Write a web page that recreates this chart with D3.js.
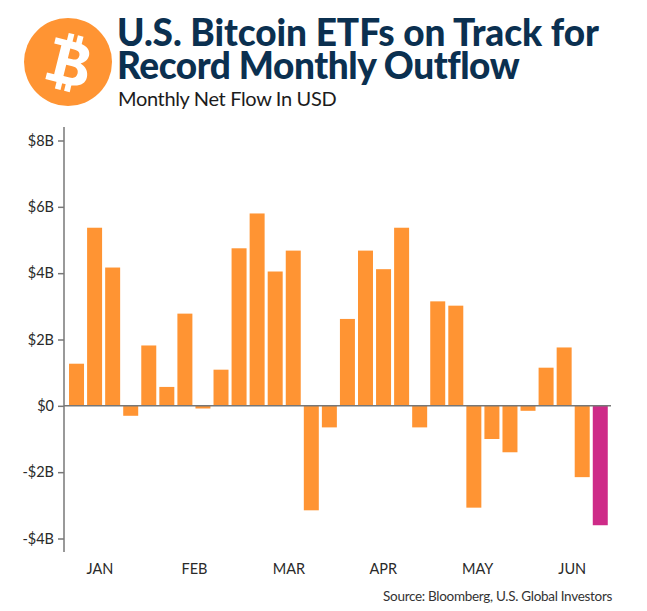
<!DOCTYPE html>
<html>
<head>
<meta charset="utf-8">
<script src="https://cdn.jsdelivr.net/npm/d3@7/dist/d3.min.js"></script>
<style>
  html, body { margin: 0; padding: 0; background: #fff; }
  svg { display: block; }
  text { font-family: Lato, "Open Sans", sans-serif; }
</style>
</head>
<body>
<div id="chart"></div>
<script>
// Monthly net flow into U.S. spot Bitcoin ETFs, in billions of USD
const flows = [
  1.27, 5.37, 4.17, -0.30, 1.82, 0.57, 2.78, -0.08, 1.09, 4.75,
  5.80, 4.05, 4.68, -3.15, -0.65, 2.62, 4.68, 4.12, 5.37, -0.65,
  3.15, 3.02, -3.07, -1.00, -1.40, -0.15, 1.15, 1.76, -2.15, -3.60
];
const months = ["JAN", "FEB", "MAR", "APR", "MAY", "JUN"];
const yTicks = [8, 6, 4, 2, 0, -2, -4];
const titleLines = ["U.S. Bitcoin ETFs on Track for", "Record Monthly Outflow"];
const subtitle = "Monthly Net Flow In USD";
const source = "Source: Bloomberg, U.S. Global Investors";

const width = 647, height = 611;
const ORANGE = "#FF9433", MAGENTA = "#CE2B88", NAVY = "#0B3050", INK = "#2A2A2A", AXIS = "#777";

const svg = d3.select("#chart").append("svg")
  .attr("width", width).attr("height", height);

const x = d3.scaleBand()
  .domain(d3.range(flows.length))
  .range([67.5, 609.3])
  .paddingInner(0.17)
  .paddingOuter(0.085);

const y = d3.scaleLinear().domain([8, -4]).range([140.5, 538.5]);

const monthX = d3.scalePoint().domain(months).range([99.5, 571.7]);

// Bars: the latest, still-running month is highlighted
svg.append("g").selectAll("rect")
  .data(flows)
  .join("rect")
  .attr("x", (d, i) => x(i))
  .attr("width", x.bandwidth())
  .attr("y", d => y(Math.max(d, 0)))
  .attr("height", d => Math.abs(y(d) - y(0)))
  .attr("fill", (d, i) => i === flows.length - 1 ? MAGENTA : ORANGE);

// Vertical axis, with the domain running past the first and last ticks
const yAxis = svg.append("g")
  .attr("transform", "translate(64,0)")
  .call(d3.axisLeft(y)
    .tickValues(yTicks)
    .tickSize(6)
    .tickPadding(4)
    .tickFormat(d => d === 0 ? "$0" : (d < 0 ? "-$" : "$") + Math.abs(d) + "B"));
yAxis.select(".domain").remove();
yAxis.append("line")
  .attr("y1", 127).attr("y2", 552)
  .attr("stroke", AXIS).attr("stroke-width", 1.5);
yAxis.selectAll(".tick line").attr("stroke", AXIS).attr("stroke-width", 1.5);
yAxis.selectAll(".tick text")
  .attr("fill", INK).style("font-size", "14.5px")
  .style("font-family", "Lato, sans-serif");

// Zero baseline
svg.append("line")
  .attr("x1", 64).attr("x2", 611)
  .attr("y1", y(0)).attr("y2", y(0))
  .attr("stroke", AXIS).attr("stroke-width", 1.5);

// Month labels
const monthAxis = svg.append("g")
  .attr("transform", "translate(0,561)")
  .call(d3.axisBottom(monthX).tickSize(0).tickPadding(3));
monthAxis.select(".domain").remove();
monthAxis.selectAll(".tick text")
  .attr("fill", INK).style("font-size", "14.5px")
  .style("font-family", "Lato, sans-serif");

// Header text
svg.append("g").selectAll("text")
  .data(titleLines)
  .join("text")
  .attr("x", 117)
  .attr("y", (d, i) => 46 + i * 33)
  .attr("fill", NAVY)
  .style("font-size", "37px")
  .style("font-weight", 900)
  .style("letter-spacing", (d, i) => i === 0 ? "-0.08px" : "-0.45px")
  .text(d => d);

svg.append("text")
  .attr("x", 118).attr("y", 106)
  .attr("fill", "#1c1c1c")
  .style("font-size", "20px")
  .style("letter-spacing", "-0.35px")
  .text(subtitle);

svg.append("text")
  .attr("x", 612).attr("y", 601)
  .attr("text-anchor", "end")
  .attr("fill", "#333")
  .style("font-size", "13.5px")
  .style("letter-spacing", "-0.3px")
  .text(source);

// Bitcoin badge
const badge = svg.append("g").attr("transform", "translate(68,62)");
badge.append("circle").attr("r", 44).attr("fill", ORANGE);
const glyph = badge.append("g").attr("transform", "rotate(14) scale(1.05)").attr("fill", "#fff");
glyph.append("path")
  .attr("fill-rule", "evenodd")
  .attr("d", "M-17,-20 L5,-20 C15,-20 18,-15 18,-10.5 C18,-6 15,-3 12,-1.5 C17,0 21,4 21,10 C21,17 15,21 5,21 L-17,21 L-17,14.5 L-10,14.5 L-10,-14 L-17,-14 Z " +
             "M-1,-13 L-1,-3.5 L3.5,-3.5 C7,-3.5 9,-5.5 9,-8.5 C9,-11.5 7,-13 3.5,-13 Z " +
             "M-1,3 L-1,14 L5,14 C9.5,14 11.5,12 11.5,8.5 C11.5,5 9.5,3 5,3 Z");
[-6, 3].forEach(sx => {
  glyph.append("rect").attr("x", sx).attr("y", -27).attr("width", 5.5).attr("height", 8);
  glyph.append("rect").attr("x", sx).attr("y", 20).attr("width", 5.5).attr("height", 7.5);
});
</script>
</body>
</html>
